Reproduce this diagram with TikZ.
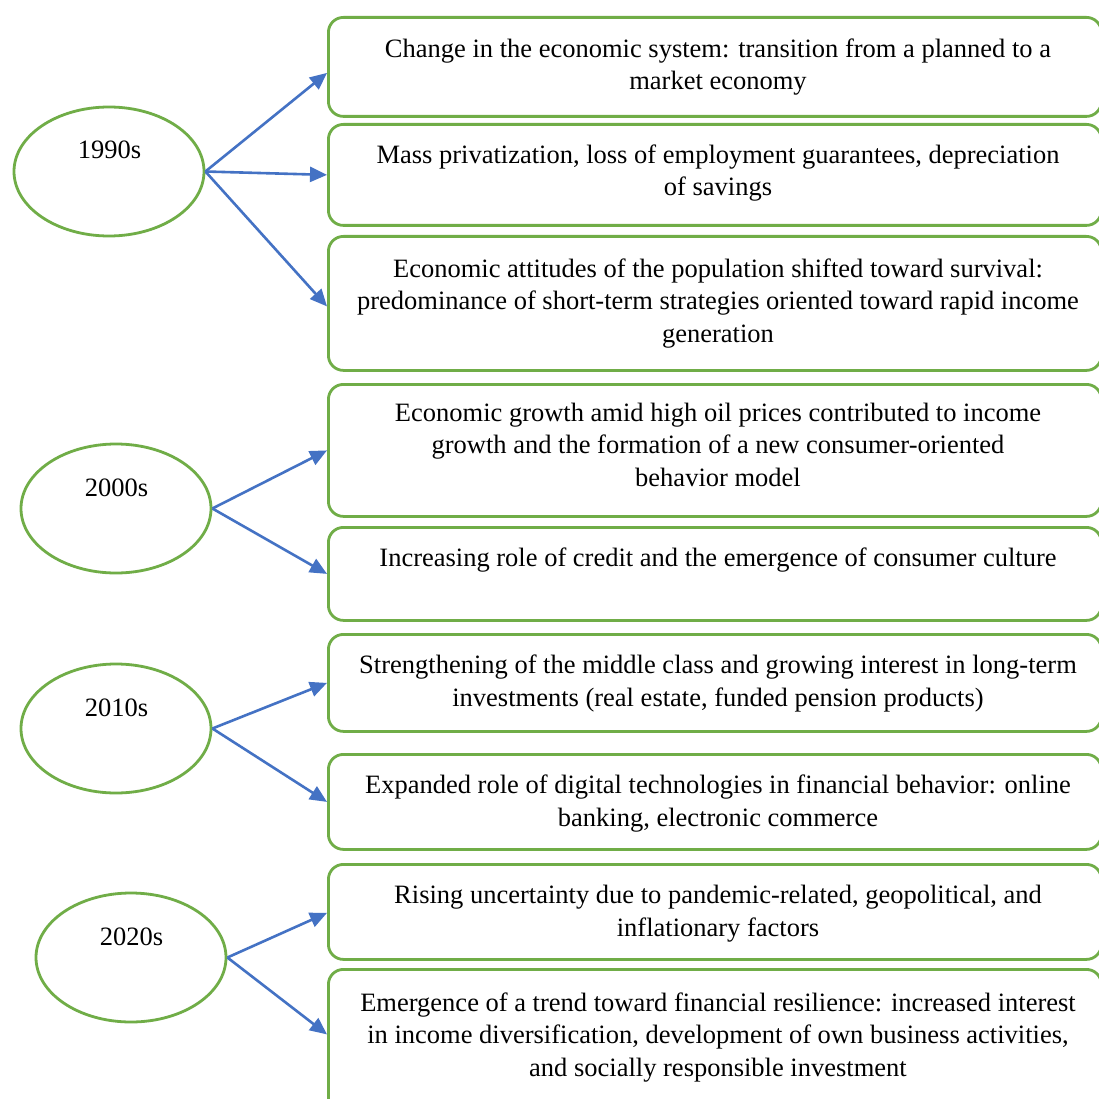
\documentclass[tikz,border=0pt]{standalone}
\usepackage{fontspec}
\setmainfont{Liberation Serif}
\usetikzlibrary{arrows.meta,shapes.geometric}
\definecolor{boxgreen}{HTML}{70AD47}
\definecolor{arrowblue}{HTML}{4472C4}
\begin{document}
\begin{tikzpicture}[x=1pt,y=-1pt,
  period/.style={draw=boxgreen,line width=2.8pt,ellipse,minimum width=190pt,minimum height=129pt,inner sep=0pt},
  itembox/.style={draw=boxgreen,line width=2.8pt,rounded corners=15pt,minimum width=773pt,inner sep=0pt,anchor=north west},
  itemtext/.style={anchor=base,align=center,inner sep=0pt,font=\fontsize{26.5}{32.3}\selectfont},
  yeartext/.style={anchor=base,inner sep=0pt,font=\fontsize{26.5}{32}\selectfont},
  link/.style={draw=arrowblue,line width=2.6pt,-{Triangle[length=17pt,width=15pt]}}
]
\useasboundingbox (0,0) rectangle (1098,1099);
\fill[white] (0,0) rectangle (1098,1099);

% boxes
\node[itembox,minimum height=99pt] (b1) at (327,16) {};
\node[itembox,minimum height=101pt] (b2) at (327,123) {};
\node[itembox,minimum height=134pt] (b3) at (327,235) {};
\node[itembox,minimum height=132pt] (b4) at (327,383) {};
\node[itembox,minimum height=93pt] (b5) at (327,526) {};
\node[itembox,minimum height=97pt] (b6) at (327,633) {};
\node[itembox,minimum height=95pt] (b7) at (327,753) {};
\node[itembox,minimum height=95pt] (b8) at (327,863) {};
\node[itembox,minimum height=150pt] (b9) at (327,968) {};

% texts (anchor = baseline of last line)
\node[itemtext] (t1) at (718,89.5) {Change in the economic system: transition from a planned to a\\market economy};
\node[itemtext] (t2) at (718,196) {Mass privatization, loss of employment guarantees, depreciation\\of savings};
\node[itemtext] (t3) at (718,342) {Economic attitudes of the population shifted toward survival:\\predominance of short-term strategies oriented toward rapid income\\generation};
\node[itemtext] (t4) at (718,486) {Economic growth amid high oil prices contributed to income\\growth and the formation of a new consumer-oriented\\behavior model};
\node[itemtext] (t5) at (718,566) {Increasing role of credit and the emergence of consumer culture};
\node[itemtext] (t6) at (718,706) {Strengthening of the middle class and growing interest in long-term\\investments (real estate, funded pension products)};
\node[itemtext] (t7) at (718,826) {Expanded role of digital technologies in financial behavior: online\\banking, electronic commerce};
\node[itemtext] (t8) at (718,936) {Rising uncertainty due to pandemic-related, geopolitical, and\\inflationary factors};
\node[itemtext] (t9) at (718,1076) {Emergence of a trend toward financial resilience: increased interest\\in income diversification, development of own business activities,\\and socially responsible investment};

% ellipses
\node[period] (e1) at (109,171.5) {};
\node[period] (e2) at (116,508.5) {};
\node[period] (e3) at (116,728.5) {};
\node[period] (e4) at (131,957.5) {};
\node[yeartext] (y1) at (109.5,159) {1990s};
\node[yeartext] (y2) at (116.5,496) {2000s};
\node[yeartext] (y3) at (116.5,716) {2010s};
\node[yeartext] (y4) at (131.5,945) {2020s};

% connectors
\draw[link] (e1.east) -- ([yshift=-6pt]b1.west);
\draw[link] (e1.east) -- (b2.west);
\draw[link] (e1.east) -- ([yshift=-3pt]b3.west);
\draw[link] (e2.east) -- (b4.west);
\draw[link] (e2.east) -- (b5.west);
\draw[link] (e3.east) -- (b6.west);
\draw[link] (e3.east) -- (b7.west);
\draw[link] (e4.east) -- ([yshift=-1pt]b8.west);
\draw[link] (e4.east) -- ([yshift=10pt]b9.west);
\end{tikzpicture}
\end{document}
